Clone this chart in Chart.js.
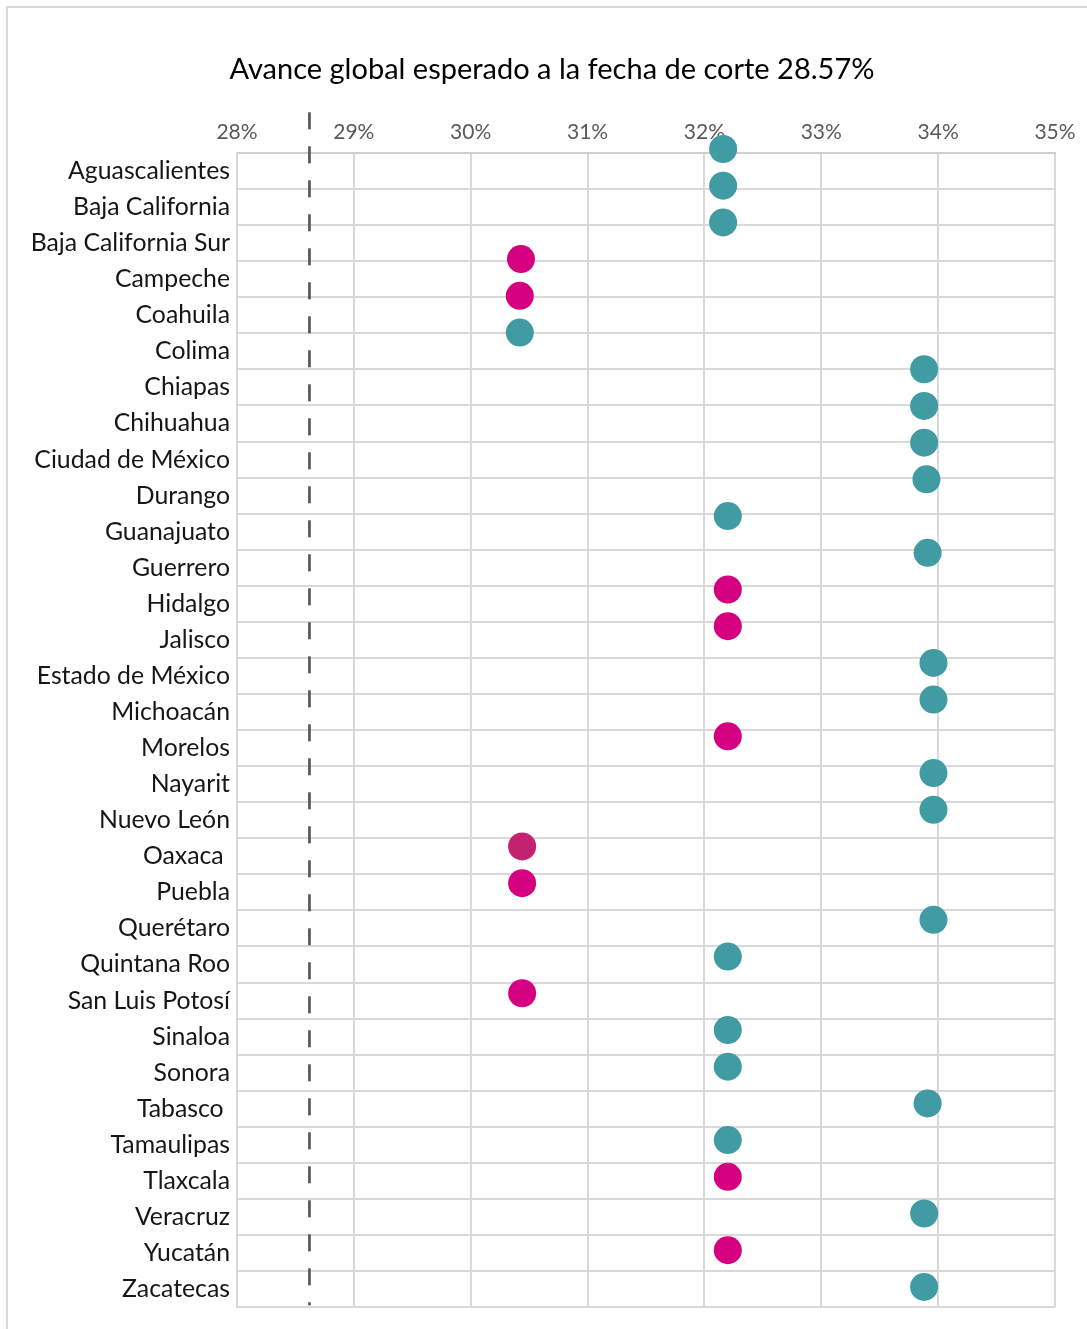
<!DOCTYPE html>
<html lang="es">
<head>
<meta charset="utf-8">
<title>Avance global esperado</title>
<script src="https://cdn.jsdelivr.net/npm/chart.js"></script>
<style>
  html, body { margin: 0; padding: 0; background: #fff; }
  #marco {
    position: absolute; left: 6px; top: 6px; width: 1100px; height: 1340px;
    border: 2px solid #d9d9d9; box-sizing: border-box;
  }
  #caja { position: absolute; left: 0; top: 0; width: 1087px; height: 1329px; }
  #titulo {
    position: absolute; left: 0; top: 50px; width: 1104px; text-align: center;
    font: 29px Lato, "Open Sans", sans-serif; color: #000; line-height: 36px;
    white-space: nowrap;
  }
</style>
</head>
<body>
<div id="marco"></div>
<div id="caja"><canvas id="graficoAvance"></canvas></div>
<div id="titulo"></div>
<script>
// ===== Datos
const estados = [
  'Aguascalientes', 'Baja California', 'Baja California Sur', 'Campeche', 'Coahuila',
  'Colima', 'Chiapas', 'Chihuahua', 'Ciudad de México', 'Durango', 'Guanajuato',
  'Guerrero', 'Hidalgo', 'Jalisco', 'Estado de México', 'Michoacán', 'Morelos',
  'Nayarit', 'Nuevo León', 'Oaxaca ', 'Puebla', 'Querétaro', 'Quintana Roo',
  'San Luis Potosí', 'Sinaloa', 'Sonora', 'Tabasco ', 'Tamaulipas', 'Tlaxcala',
  'Veracruz', 'Yucatán', 'Zacatecas'
];
const avance = [
  32.16, 32.16, 32.16, 30.43, 30.42,
  30.42, 33.88, 33.88, 33.88, 33.90, 32.20,
  33.91, 32.20, 32.20, 33.96, 33.96, 32.20,
  33.96, 33.96, 30.44, 30.44, 33.96, 32.20,
  30.44, 32.20, 32.20, 33.91, 32.20, 32.20,
  33.88, 32.20, 33.88
];
const estatus = [
  'ok', 'ok', 'ok', 'bajo', 'bajo',
  'ok', 'ok', 'ok', 'ok', 'ok', 'ok',
  'ok', 'bajo', 'bajo', 'ok', 'ok', 'bajo',
  'ok', 'ok', 'bajo2', 'bajo', 'ok', 'ok',
  'bajo', 'ok', 'ok', 'ok', 'ok', 'bajo',
  'ok', 'bajo', 'ok'
];
const ticksX = [28, 29, 30, 31, 32, 33, 34, 35];
const corte = 28.62;          // línea punteada (avance esperado)
const titulo = 'Avance global esperado a la fecha de corte 28.57%';

// ===== Estilos
const colores = { ok: '#409ba2', bajo: '#d5007f', bajo2: '#c2226f' };
const rejilla = '#d9d9d9';
const fuente = 'Lato, "Open Sans", sans-serif';

document.getElementById('titulo').textContent = titulo;

const ctx = document.getElementById('graficoAvance').getContext('2d');

new Chart(ctx, {
  type: 'scatter',
  data: {
    datasets: [
      {
        type: 'line',
        data: [{ x: corte, y: -1 }, { x: corte, y: 31.5 }],
        borderColor: '#595959',
        borderWidth: 2.75,
        borderDash: [17, 17],
        pointRadius: 0,
        clip: false,
        xAxisID: 'x',
        yAxisID: 'yPuntos'
      },
      {
        data: estados.map((e, i) => ({ x: avance[i], y: i })),
        pointRadius: 14,
        pointBackgroundColor: estatus.map(s => colores[s]),
        pointBorderWidth: 0,
        pointBorderColor: 'rgba(0,0,0,0)',
        showLine: false,
        clip: false,
        xAxisID: 'x',
        yAxisID: 'yPuntos'
      }
    ]
  },
  options: {
    responsive: true,
    maintainAspectRatio: false,
    animation: false,
    layout: { padding: { top: 94.4, right: 32, bottom: 20, left: 0 } },
    plugins: {
      legend: { display: false },
      tooltip: { enabled: false },
      title: { display: false }
    },
    scales: {
      x: {
        type: 'linear',
        position: 'top',
        min: ticksX[0],
        max: ticksX[ticksX.length - 1],
        afterBuildTicks: s => { s.ticks = ticksX.map(v => ({ value: v })); },
        afterFit: s => { s.height = 58.6; },
        grid: { color: rejilla, lineWidth: 2, drawTicks: false },
        border: { display: true, color: '#cfcfcf', width: 2 },
        ticks: {
          padding: 8,
          color: '#595959',
          font: { family: fuente, size: 21 },
          callback: v => v + '%'
        }
      },
      yCat: {
        type: 'category',
        position: 'left',
        labels: estados,
        offset: true,
        afterFit: s => { s.width = 237; },
        grid: { offset: true, color: rejilla, lineWidth: 2, drawTicks: false },
        border: { display: true, color: rejilla, width: 2 },
        ticks: {
          padding: 7,
          color: '#161616',
          font: { family: fuente, size: 24.8 }
        }
      },
      yPuntos: {
        type: 'linear',
        display: false,
        reverse: true,
        min: 0.109,
        max: 31.55
      }
    }
  }
});
</script>
</body>
</html>
